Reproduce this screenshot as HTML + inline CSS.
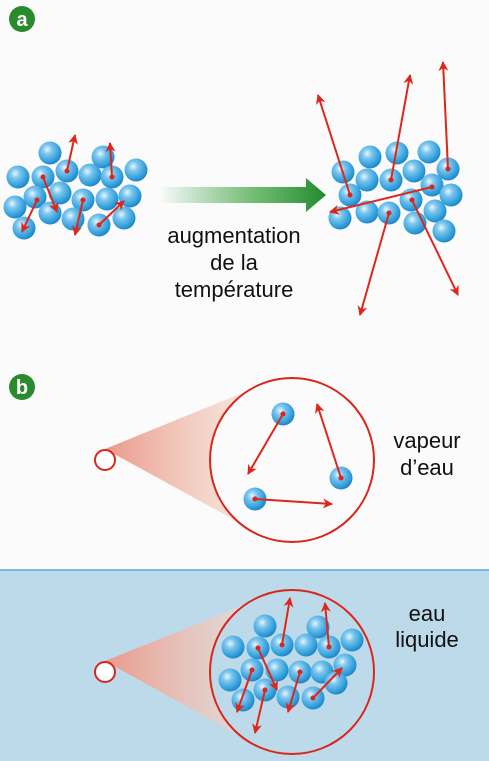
<!DOCTYPE html>
<html><head><meta charset="utf-8"><style>
html,body{margin:0;padding:0;background:#fbfbfb}
svg{display:block}
text{font-family:"Liberation Sans","DejaVu Sans",sans-serif;fill:#111}
</style></head><body>
<svg id="fig" width="489" height="761" viewBox="0 0 489 761">
<defs>
<radialGradient id="ball" cx="0.38" cy="0.35" r="0.7">
<stop offset="0" stop-color="#e8f6ff"/><stop offset="0.3" stop-color="#7cc6ee"/><stop offset="0.8" stop-color="#2a9ad8"/><stop offset="1" stop-color="#1b7fbf"/>
</radialGradient>
<linearGradient id="garrow" x1="0" x2="1"><stop offset="0" stop-color="#2e9a3a" stop-opacity="0"/><stop offset="0.6" stop-color="#4aa84a" stop-opacity="0.8"/><stop offset="1" stop-color="#1f8a2e"/></linearGradient>
<linearGradient id="cone" x1="0" x2="1"><stop offset="0" stop-color="#e9998a"/><stop offset="1" stop-color="#f7e0d4" stop-opacity="0.6"/></linearGradient>
<marker id="ah" viewBox="0 0 10 10" refX="9" refY="5" markerWidth="11" markerHeight="10" orient="auto-start-reverse" markerUnits="userSpaceOnUse"><path d="M0,0 L10,5 L0,10 L3,5 Z" fill="#e0261b"/></marker>
</defs>
<rect x="0" y="570" width="489" height="191" fill="#bcdae9"/>
<line x1="0" y1="570" x2="489" y2="570" stroke="#5aa9d4" stroke-width="1.5"/>
<g><circle cx="22" cy="19" r="13" fill="#2a8a2e"/><text x="22" y="26" text-anchor="middle" font-size="20" font-weight="bold" style="fill:#fff">a</text></g>
<g><circle cx="22" cy="387" r="13" fill="#2a8a2e"/><text x="22" y="394" text-anchor="middle" font-size="20" font-weight="bold" style="fill:#fff">b</text></g>
<path d="M160,187 H306 V178 L326,195 L306,212 V203 H160 Z" fill="url(#garrow)"/>
<text x="234" y="243" text-anchor="middle" font-size="22">augmentation</text>
<text x="234" y="270" text-anchor="middle" font-size="22">de la</text>
<text x="234" y="297" text-anchor="middle" font-size="22">température</text>
<path d="M105,449 L262,385 A82,82 0 0 0 262,535 Z" fill="url(#cone)"/>
<circle cx="292" cy="460" r="82" fill="#fbfbfb" stroke="#d9261c" stroke-width="2"/>
<circle cx="105" cy="460" r="10" fill="#fff" stroke="#d9261c" stroke-width="2"/>
<text x="427" y="448" text-anchor="middle" font-size="22">vapeur</text>
<text x="427" y="475" text-anchor="middle" font-size="22">d’eau</text>
<path d="M105,661 L262,598 A82,82 0 0 0 262,748 Z" fill="url(#cone)"/>
<circle cx="292" cy="672" r="82" fill="#bcdae9" stroke="#d9261c" stroke-width="2"/>
<circle cx="105" cy="672" r="10" fill="#fff" stroke="#d9261c" stroke-width="2"/>
<text x="427" y="621" text-anchor="middle" font-size="22">eau</text>
<text x="427" y="647" text-anchor="middle" font-size="22">liquide</text>
<g id="parts"></g>
</svg>
<script>
const solidBalls=[[50,153],[103,157],[18,177],[43,177],[67,171],[90,175],[112,177],[136,170],[35,197],[60,193],[83,200],[107,199],[130,196],[15,207],[24,228],[50,213],[73,219],[99,225],[124,218]];
const solidArrows=[[67,171,75,135],[112,177,110,143],[43,177,57,212],[37,200,22,232],[83,200,75,235],[99,225,124,201]];
const hotBalls=[[370,157],[397,153],[429,152],[343,172],[367,180],[391,180],[414,171],[448,169],[350,195],[432,185],[451,195],[340,218],[367,212],[389,213],[411,200],[435,211],[415,223],[444,231]];
const hotArrows=[[350,195,318,95],[391,180,410,75],[448,169,443,62],[432,187,330,212],[389,213,360,315],[412,200,458,295]];
const vaporBalls=[[283,414],[341,478],[255,499]];
const vaporArrows=[[283,414,248,474],[341,478,317,404],[255,499,332,504]];
const liquidBalls=[[265,626],[318,627],[233,647],[258,648],[282,645],[306,645],[329,647],[352,640],[252,670],[277,670],[300,672],[322,672],[345,665],[230,680],[243,700],[265,690],[288,697],[313,698],[336,683]];
const liquidArrows=[[282,645,290,598],[329,647,325,603],[258,648,277,690],[252,670,237,712],[265,690,255,733],[300,672,288,712],[313,698,342,668]];
const NS='http://www.w3.org/2000/svg';
const g=document.getElementById('parts');
function balls(list,name,r){list.forEach(p=>{const c=document.createElementNS(NS,'circle');
c.setAttribute('cx',p[0]);c.setAttribute('cy',p[1]);c.setAttribute('r',r);c.setAttribute('fill','url(#ball)');


g.appendChild(c);});}
function arrows(list,name){list.forEach(a=>{const l=document.createElementNS(NS,'line');
l.setAttribute('x1',a[0]);l.setAttribute('y1',a[1]);l.setAttribute('x2',a[2]);l.setAttribute('y2',a[3]);
l.setAttribute('stroke','#e0261b');l.setAttribute('stroke-width','2');l.setAttribute('marker-end','url(#ah)');


g.appendChild(l);
const d=document.createElementNS(NS,'circle');d.setAttribute('cx',a[0]);d.setAttribute('cy',a[1]);d.setAttribute('r',2.5);d.setAttribute('fill','#d9261c');


g.appendChild(d);});}
balls(solidBalls,'cold-molecule',11.5);arrows(solidArrows,'cold-velocity-arrow');
balls(hotBalls,'hot-molecule',11.5);arrows(hotArrows,'hot-velocity-arrow');
balls(vaporBalls,'vapor-molecule',11.5);arrows(vaporArrows,'vapor-velocity-arrow');
balls(liquidBalls,'liquid-molecule',11.5);arrows(liquidArrows,'liquid-velocity-arrow');
</script>
</body></html>
